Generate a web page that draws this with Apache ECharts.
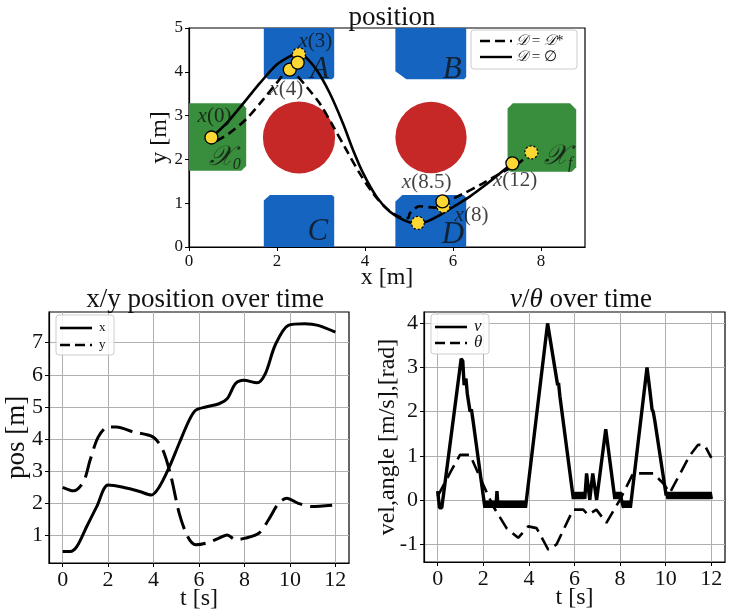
<!DOCTYPE html>
<html>
<head>
<meta charset="utf-8">
<script src="https://cdn.jsdelivr.net/npm/echarts@6/dist/echarts.min.js"></script>
<style>
  html, body { margin: 0; padding: 0; background: #fff; }
  #main { width: 747px; height: 611px; }
</style>
</head>
<body>
<div id="main"></div>
<script>
// ---- position plot ----
// green start / goal sets
var greenRegions = [
  [[-0.2, 1.74], [1.19, 1.74], [1.3, 1.85], [1.3, 3.17], [1.21, 3.28], [-0.2, 3.28]],
  [[7.24, 1.78], [7.3, 1.72], [8.7, 1.72], [8.8, 1.82], [8.8, 3.14], [8.66, 3.28], [7.36, 3.28], [7.24, 3.16]]
];
// blue regions A, B, C, D
var blueRegions = [
  [[1.7, 5.3], [1.7, 3.92], [1.8, 3.83], [3.25, 3.83], [3.3, 3.88], [3.3, 5.3]],
  [[4.69, 5.3], [4.69, 4.01], [4.94, 3.83], [6.25, 3.83], [6.3, 3.88], [6.3, 5.3]],
  [[1.7, -0.3], [1.7, 1.06], [1.84, 1.19], [3.25, 1.19], [3.3, 1.14], [3.3, -0.3]],
  [[4.69, -0.3], [4.69, 1.04], [4.85, 1.19], [6.24, 1.19], [6.3, 1.13], [6.3, -0.3]]
];
// red obstacles: cx, cy, r
var obstacles = [[2.5, 2.5, 0.82], [5.5, 2.5, 0.81]];

// D = ∅ (solid)
var pathFree = [
  [0.51, 2.5], [0.85, 2.82], [1.3, 3.36], [1.61, 3.74], [1.99, 4.16], [2.29, 4.35], [2.44, 4.41],
  [2.63, 4.35], [2.9, 4.04], [3.2, 3.51], [3.5, 2.82], [3.73, 2.21], [3.96, 1.68], [4.26, 1.15],
  [4.56, 0.81], [4.87, 0.62], [5.17, 0.53], [5.4, 0.58], [5.7, 0.73], [6.08, 0.96], [6.38, 1.15],
  [6.69, 1.38], [6.99, 1.62], [7.35, 1.91]
];
// D = D* (dashed)
var pathDist = [
  [0.62, 2.42], [0.92, 2.6], [1.3, 2.92], [1.68, 3.36], [1.99, 3.74], [2.25, 4.0], [2.4, 3.96],
  [2.67, 3.66], [2.97, 3.28], [3.28, 2.75], [3.58, 2.21], [3.88, 1.68], [4.18, 1.23], [4.49, 0.88],
  [4.8, 0.68], [4.98, 0.66], [5.02, 0.77], [5.24, 0.93], [5.58, 0.9], [5.78, 1.0], [6.2, 1.2],
  [6.69, 1.46], [7.2, 1.75], [7.45, 1.88], [7.78, 2.16]
];
var markersSolid = [[0.51, 2.5], [2.29, 4.05], [2.47, 4.21], [5.76, 1.04], [7.35, 1.91]];
var markersDashed = [[2.5, 4.4], [5.2, 0.55], [5.78, 0.93], [7.78, 2.16]];

var annotations = [
  { value: [0.58, 2.98], text: '{i|x}(0)' },
  { value: [0.81, 2.05], text: '{c|𝒳}{s|0}' },
  { value: [2.87, 4.69], text: '{i|x}(3)' },
  { value: [2.97, 4.05], text: '{b|A}' },
  { value: [2.21, 3.6], text: '{i|x}(4)' },
  { value: [5.98, 4.05], text: '{b|B}' },
  { value: [2.93, 0.34], text: '{b|C}' },
  { value: [6.0, 0.27], text: '{b|D}' },
  { value: [5.4, 1.47], text: '{i|x}(8.5)' },
  { value: [6.42, 0.73], text: '{i|x}(8)' },
  { value: [7.41, 1.53], text: '{i|x}(12)' },
  { value: [8.39, 2.06], text: '{c|𝒳}{s|f}' }
];
var posXTicks = [0, 2, 4, 6, 8];
var posYTicks = [0, 1, 2, 3, 4, 5];

// ---- x/y position over time ----
var xOverTime = [
  [0, 0.5], [0.33, 0.5], [0.63, 0.66], [1.06, 1.28], [1.5, 1.9], [2.0, 2.57], [2.66, 2.5],
  [3.39, 2.37], [3.9, 2.26], [4.26, 2.52], [4.7, 3.14], [5.13, 3.87], [5.57, 4.59], [5.86, 4.9],
  [6.3, 5.0], [6.88, 5.1], [7.24, 5.26], [7.61, 5.73], [7.97, 5.83], [8.55, 5.75], [8.92, 6.04],
  [9.35, 6.92], [9.93, 7.54], [10.66, 7.59], [11.24, 7.54], [12, 7.33]
];
var yOverTime = [
  [0, 2.5], [0.48, 2.39], [0.92, 2.68], [1.21, 3.35], [1.57, 4.07], [2.0, 4.38], [2.37, 4.38],
  [3.09, 4.23], [3.97, 4.07], [4.41, 3.66], [4.77, 2.83], [5.13, 1.69], [5.5, 0.97], [5.86, 0.71],
  [6.3, 0.76], [6.88, 0.92], [7.24, 1.02], [7.61, 0.87], [8.04, 0.92], [8.63, 1.07], [9.06, 1.49],
  [9.5, 2.0], [9.86, 2.16], [10.37, 2.0], [10.95, 1.9], [12, 1.95]
];
var timeTicks = [0, 2, 4, 6, 8, 10, 12];
var posTicks = [1, 2, 3, 4, 5, 6, 7];

// ---- v / theta over time ----
var vOverTime = [
  [0, 0.2], [0.08, -0.18], [0.18, -0.18], [1.03, 3.2], [1.1, 3.15], [1.16, 2.6], [1.24, 2.75],
  [1.3, 2.4], [1.42, 2.0], [1.48, 2.05], [1.55, 1.8], [2.07, -0.18],
  [2.10, -0.02], [2.15, -0.18], [2.20, -0.02], [2.25, -0.18], [2.30, -0.02], [2.35, -0.18],
  [2.40, -0.02], [2.45, -0.18], [2.50, -0.02], [2.55, -0.18], [2.60, 0.2], [2.65, -0.18],
  [2.70, -0.02], [2.75, -0.18], [2.80, -0.02], [2.85, -0.18], [2.90, -0.02], [2.95, -0.18],
  [3.00, -0.02], [3.05, -0.18], [3.10, -0.02], [3.15, -0.18], [3.20, -0.02], [3.25, -0.18],
  [3.30, -0.02], [3.35, -0.18], [3.40, -0.02], [3.45, -0.18], [3.50, -0.02], [3.55, -0.18],
  [3.60, -0.02], [3.65, -0.18], [3.70, -0.02], [3.75, -0.18], [3.80, -0.02], [3.85, -0.18], [3.90, -0.18],
  [4.82, 4.0], [4.9, 4.0], [5.26, 2.6], [5.3, 2.65], [5.36, 2.35], [5.95, 0.02],
  [6.00, 0.18], [6.05, 0.02], [6.10, 0.18], [6.15, 0.02], [6.20, 0.18], [6.25, 0.02],
  [6.30, 0.18], [6.35, 0.02], [6.40, 0.18], [6.45, 0.02],
  [6.53, 0.6], [6.67, 0.0], [6.8, 0.6], [6.97, 0.0], [7.37, 1.6], [7.77, 0.02],
  [7.80, 0.18], [7.85, 0.02], [7.90, 0.18], [7.95, 0.02], [8.00, 0.18], [8.05, 0.02],
  [8.10, -0.02], [8.15, -0.18], [8.20, -0.02], [8.25, -0.18], [8.30, -0.02], [8.35, -0.18],
  [8.40, -0.02], [8.45, -0.18], [8.50, -0.18],
  [9.18, 3.0], [9.3, 2.5], [9.4, 2.05], [9.45, 2.0], [9.52, 1.8], [10.02, 0.1],
  [10.05, 0.18], [10.10, 0.02], [10.15, 0.18], [10.20, 0.02], [10.25, 0.18], [10.30, 0.02],
  [10.35, 0.18], [10.40, 0.02], [10.45, 0.18], [10.50, 0.02], [10.55, 0.18], [10.60, 0.02],
  [10.65, 0.18], [10.70, 0.02], [10.75, 0.18], [10.80, 0.02], [10.85, 0.18], [10.90, 0.02],
  [10.95, 0.18], [11.00, 0.02], [11.05, 0.18], [11.10, 0.02], [11.15, 0.18], [11.20, 0.02],
  [11.25, 0.18], [11.30, 0.02], [11.35, 0.18], [11.40, 0.02], [11.45, 0.18], [11.50, 0.02],
  [11.55, 0.18], [11.60, 0.02], [11.65, 0.18], [11.70, 0.02], [11.75, 0.18], [11.80, 0.02],
  [11.85, 0.18], [11.90, 0.02], [11.95, 0.18], [12.00, 0.02]
];
var thetaOverTime = [
  [0, 0.08], [0.54, 0.61], [0.98, 1.02], [1.42, 1.02], [2.0, 0.34], [2.44, -0.15], [3.02, -0.64],
  [3.53, -0.86], [3.97, -0.6], [4.34, -0.64], [4.85, -1.13], [5.21, -1.01], [5.94, -0.22],
  [6.38, -0.22], [6.6, -0.34], [6.96, -0.22], [7.4, -0.52], [7.99, 0.0], [8.57, 0.6], [9.45, 0.6],
  [9.88, 0.38], [10.18, 0.16], [11.05, 1.0], [11.42, 1.25], [11.71, 1.24], [12, 0.95]
];
var velTicks = [-1, 0, 1, 2, 3, 4];

var FONT = 'Liberation Serif';
var chart = echarts.init(document.getElementById('main'), null, { renderer: 'canvas' });

function valAxis(gridIndex, min, max, ticks, fontSize, extra) {
  var ax = {
    type: 'value', gridIndex: gridIndex, min: min, max: max,
    axisLine: { show: true, onZero: false, lineStyle: { color: '#000', width: 1.2 } },
    axisTick: { show: true, inside: false, length: 4, customValues: ticks, lineStyle: { color: '#000' } },
    axisLabel: { customValues: ticks, color: '#111', fontFamily: FONT, fontSize: fontSize, margin: 6 },
    splitLine: { show: false },
    nameLocation: 'middle',
    nameMoveOverlap: false,
    nameTextStyle: { fontFamily: FONT, color: '#111' }
  };
  return Object.assign(ax, extra || {});
}

var italicRich = {
  i: { fontFamily: FONT, fontStyle: 'italic', fontSize: 21, color: '#111' },
  c: { fontFamily: FONT, fontStyle: 'italic', fontSize: 28, color: '#111' },
  s: { fontFamily: FONT, fontStyle: 'italic', fontSize: 16, color: '#111', padding: [15, 0, 0, 0] },
  b: { fontFamily: FONT, fontStyle: 'italic', fontSize: 31, color: '#111' }
};
var gridLine = { color: '#b0b0b0', width: 1 };
var gridBase = { show: true, borderColor: '#000', borderWidth: 1.2, backgroundColor: 'transparent',
  containLabel: false, outerBoundsMode: 'none' };

var option = {
  animation: false,
  backgroundColor: '#fff',
  title: [
    { text: 'position', left: 387, top: -1, textAlign: 'center',
      textStyle: { fontFamily: FONT, fontWeight: 'normal', fontSize: 27, color: '#111' } },
    { text: 'x/y position over time', left: 200, top: 281, textAlign: 'center',
      textStyle: { fontFamily: FONT, fontWeight: 'normal', fontSize: 27, color: '#111' } },
    { text: '{i|v}/{i|θ} over time', left: 576, top: 281, textAlign: 'center',
      textStyle: { fontFamily: FONT, fontWeight: 'normal', fontSize: 27, color: '#111',
        rich: { i: { fontFamily: FONT, fontStyle: 'italic', fontSize: 27, color: '#111' } } } }
  ],
  grid: [
    Object.assign({ left: 189, top: 28, width: 396, height: 219 }, gridBase),
    Object.assign({ left: 49, top: 312, width: 300, height: 251 }, gridBase),
    Object.assign({ left: 424, top: 312, width: 301, height: 250 }, gridBase)
  ],
  xAxis: [
    valAxis(0, 0, 9, posXTicks, 17, { name: 'x [m]', nameGap: 19, nameTextStyle: { fontFamily: FONT, fontSize: 24, color: '#111' } }),
    valAxis(1, -0.6, 12.6, timeTicks, 22, { name: 't [s]', nameGap: 24,
      nameTextStyle: { fontFamily: FONT, fontSize: 24, color: '#111' },
      splitLine: { show: true, customValues: timeTicks, lineStyle: gridLine } }),
    valAxis(2, -0.6, 12.6, timeTicks, 22, { name: 't [s]', nameGap: 24,
      nameTextStyle: { fontFamily: FONT, fontSize: 24, color: '#111' },
      splitLine: { show: true, customValues: timeTicks, lineStyle: gridLine } })
  ],
  yAxis: [
    valAxis(0, 0, 5, posYTicks, 17, { name: 'y [m]', nameGap: 17, nameRotate: 90,
      nameTextStyle: { fontFamily: FONT, fontSize: 24, color: '#111' } }),
    valAxis(1, 0.145, 7.955, posTicks, 22, { name: 'pos [m]', nameGap: 19, nameRotate: 90,
      nameTextStyle: { fontFamily: FONT, fontSize: 27, color: '#111' },
      splitLine: { show: true, customValues: posTicks, lineStyle: gridLine } }),
    valAxis(2, -1.4075, 4.2575, velTicks, 22, { name: 'vel,angle [m/s],[rad]', nameGap: 24, nameRotate: 90,
      nameTextStyle: { fontFamily: FONT, fontSize: 24, color: '#111' },
      splitLine: { show: true, customValues: velTicks, lineStyle: gridLine } })
  ],
  series: [
    {
      type: 'custom', xAxisIndex: 0, yAxisIndex: 0, clip: true, silent: true, z: 1,
      data: greenRegions.map(function (p, i) { return [i]; }),
      renderItem: function (params, api) {
        var poly = greenRegions[api.value(0)];
        return { type: 'polygon', shape: { points: poly.map(function (p) { return api.coord(p); }) }, style: { fill: '#388e3c' } };
      }
    },
    {
      type: 'custom', xAxisIndex: 0, yAxisIndex: 0, clip: true, silent: true, z: 1,
      data: blueRegions.map(function (p, i) { return [i]; }),
      renderItem: function (params, api) {
        var poly = blueRegions[api.value(0)];
        return { type: 'polygon', shape: { points: poly.map(function (p) { return api.coord(p); }) }, style: { fill: '#1565c0' } };
      }
    },
    {
      type: 'custom', xAxisIndex: 0, yAxisIndex: 0, clip: true, silent: true, z: 1,
      data: obstacles,
      renderItem: function (params, api) {
        var c = api.coord([api.value(0), api.value(1)]);
        var r = api.size([api.value(2), 0])[0];
        return { type: 'circle', shape: { cx: c[0], cy: c[1], r: r }, style: { fill: '#c62828' } };
      }
    },
    {
      name: 'D = D*', type: 'line', xAxisIndex: 0, yAxisIndex: 0, data: pathDist, smooth: 0.3,
      showSymbol: false, z: 3, lineStyle: { color: '#000', width: 2.6, type: [9, 5] }
    },
    {
      name: 'D = ∅', type: 'line', xAxisIndex: 0, yAxisIndex: 0, data: pathFree, smooth: 0.3,
      showSymbol: false, z: 3, lineStyle: { color: '#000', width: 2.6 }
    },
    {
      type: 'scatter', xAxisIndex: 0, yAxisIndex: 0, data: markersDashed, symbolSize: 13, z: 4,
      itemStyle: { color: '#fdd835', borderColor: '#000', borderWidth: 1.3, borderType: [2, 2], opacity: 1 }
    },
    {
      type: 'scatter', xAxisIndex: 0, yAxisIndex: 0, data: markersSolid, symbolSize: 13, z: 5,
      itemStyle: { color: '#fdd835', borderColor: '#000', borderWidth: 1.3, opacity: 1 }
    },
    {
      type: 'scatter', xAxisIndex: 0, yAxisIndex: 0, data: annotations, symbolSize: 0, z: 6, silent: true,
      label: {
        show: true, position: 'inside', color: '#111', fontFamily: FONT, fontSize: 21,
        formatter: function (p) { return p.data.text; }, rich: italicRich
      }
    },
    {
      type: 'line', xAxisIndex: 1, yAxisIndex: 1, data: xOverTime, smooth: 0.3, showSymbol: false,
      lineStyle: { color: '#000', width: 3 }
    },
    {
      type: 'line', xAxisIndex: 1, yAxisIndex: 1, data: yOverTime, smooth: 0.3, showSymbol: false,
      lineStyle: { color: '#000', width: 3, type: [22, 8] }
    },
    {
      type: 'line', xAxisIndex: 2, yAxisIndex: 2, data: vOverTime, showSymbol: false,
      lineStyle: { color: '#000', width: 3.4, join: 'bevel' }
    },
    {
      type: 'line', xAxisIndex: 2, yAxisIndex: 2, data: thetaOverTime, showSymbol: false,
      lineStyle: { color: '#000', width: 2.6, type: [14, 7] }
    }
  ],
  graphic: [
    // legend: position
    { type: 'rect', shape: { x: 471, y: 30, width: 106, height: 39, r: 3 }, style: { fill: 'rgba(255,255,255,0.85)', stroke: '#cccccc', lineWidth: 1 }, z: 50 },
    { type: 'line', shape: { x1: 480, y1: 41, x2: 512, y2: 41 }, style: { stroke: '#000', lineWidth: 2.4, lineDash: [10, 5] }, z: 51 },
    { type: 'line', shape: { x1: 480, y1: 57, x2: 512, y2: 57 }, style: { stroke: '#000', lineWidth: 2.4 }, z: 51 },
    { type: 'text', x: 516, y: 41, z: 51, style: { text: '{i|𝒟} = {i|𝒟}*', verticalAlign: 'middle', fontFamily: FONT, fontSize: 15, fill: '#111',
      rich: { i: { fontFamily: FONT, fontStyle: 'italic', fontSize: 15 } } } },
    { type: 'text', x: 516, y: 57, z: 51, style: { text: '{i|𝒟} = ∅', verticalAlign: 'middle', fontFamily: FONT, fontSize: 15, fill: '#111',
      rich: { i: { fontFamily: FONT, fontStyle: 'italic', fontSize: 15 } } } },
    // legend: x/y
    { type: 'rect', shape: { x: 56, y: 315, width: 58, height: 40, r: 3 }, style: { fill: 'rgba(255,255,255,0.85)', stroke: '#cccccc', lineWidth: 1 }, z: 50 },
    { type: 'line', shape: { x1: 60, y1: 328, x2: 92, y2: 328 }, style: { stroke: '#000', lineWidth: 2.6 }, z: 51 },
    { type: 'line', shape: { x1: 60, y1: 345, x2: 92, y2: 345 }, style: { stroke: '#000', lineWidth: 2.6, lineDash: [10, 5] }, z: 51 },
    { type: 'text', x: 99, y: 328, z: 51, style: { text: 'x', verticalAlign: 'middle', fontFamily: FONT, fontSize: 13, fill: '#111' } },
    { type: 'text', x: 99, y: 345, z: 51, style: { text: 'y', verticalAlign: 'middle', fontFamily: FONT, fontSize: 13, fill: '#111' } },
    // legend: v/theta
    { type: 'rect', shape: { x: 431, y: 314, width: 58, height: 40, r: 3 }, style: { fill: 'rgba(255,255,255,0.85)', stroke: '#cccccc', lineWidth: 1 }, z: 50 },
    { type: 'line', shape: { x1: 435, y1: 327, x2: 467, y2: 327 }, style: { stroke: '#000', lineWidth: 2.6 }, z: 51 },
    { type: 'line', shape: { x1: 435, y1: 343, x2: 467, y2: 343 }, style: { stroke: '#000', lineWidth: 2.6, lineDash: [10, 5] }, z: 51 },
    { type: 'text', x: 474, y: 327, z: 51, style: { text: 'v', verticalAlign: 'middle', fontFamily: FONT, fontStyle: 'italic', fontSize: 17, fill: '#111' } },
    { type: 'text', x: 474, y: 343, z: 51, style: { text: 'θ', verticalAlign: 'middle', fontFamily: FONT, fontStyle: 'italic', fontSize: 17, fill: '#111' } }
  ]
};
chart.setOption(option);
</script>
</body>
</html>
